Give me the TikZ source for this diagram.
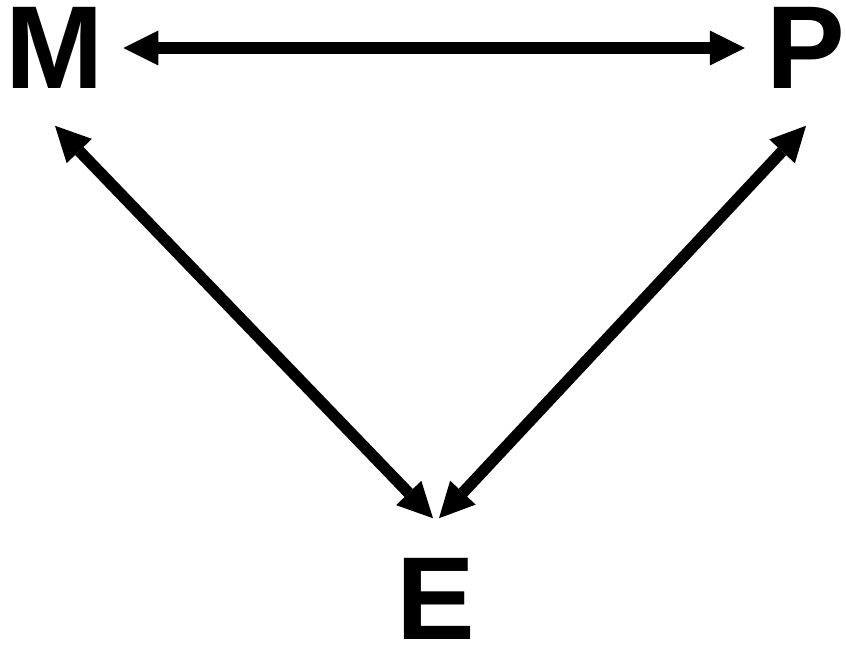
\documentclass[tikz,border=0pt]{standalone}
\usepackage{fontspec}
\setmainfont{Liberation Sans}
\usetikzlibrary{positioning, arrows.meta}

\begin{document}
\begin{tikzpicture}[
    x=1pt, y=1pt,
    vertex/.style={inner sep=0pt, font=\fontsize{118}{118}\selectfont\bfseries},
    arr/.style={{Triangle[length=35pt, width=35pt, line width=0pt]}-{Triangle[length=35pt, width=35pt, line width=0pt]}, line width=11.5pt}
]
    \useasboundingbox (0,0) rectangle (846,646);
    \node[vertex] (M) at (55,598)    {M};
    \node[vertex] (P) at (805.5,598) {P};
    \node[vertex] (E) at (435.5,47)  {E};

    \draw[arr] ([xshift=19pt]M.east) -- ([xshift=-21pt]P.west);
    \draw[arr] ([yshift=-37pt]M.south) -- ([xshift=-2.5pt, yshift=40pt]E.north);
    \draw[arr] ([xshift=0.5pt, yshift=-37pt]P.south) -- ([xshift=3.5pt, yshift=40pt]E.north);
\end{tikzpicture}
\end{document}
